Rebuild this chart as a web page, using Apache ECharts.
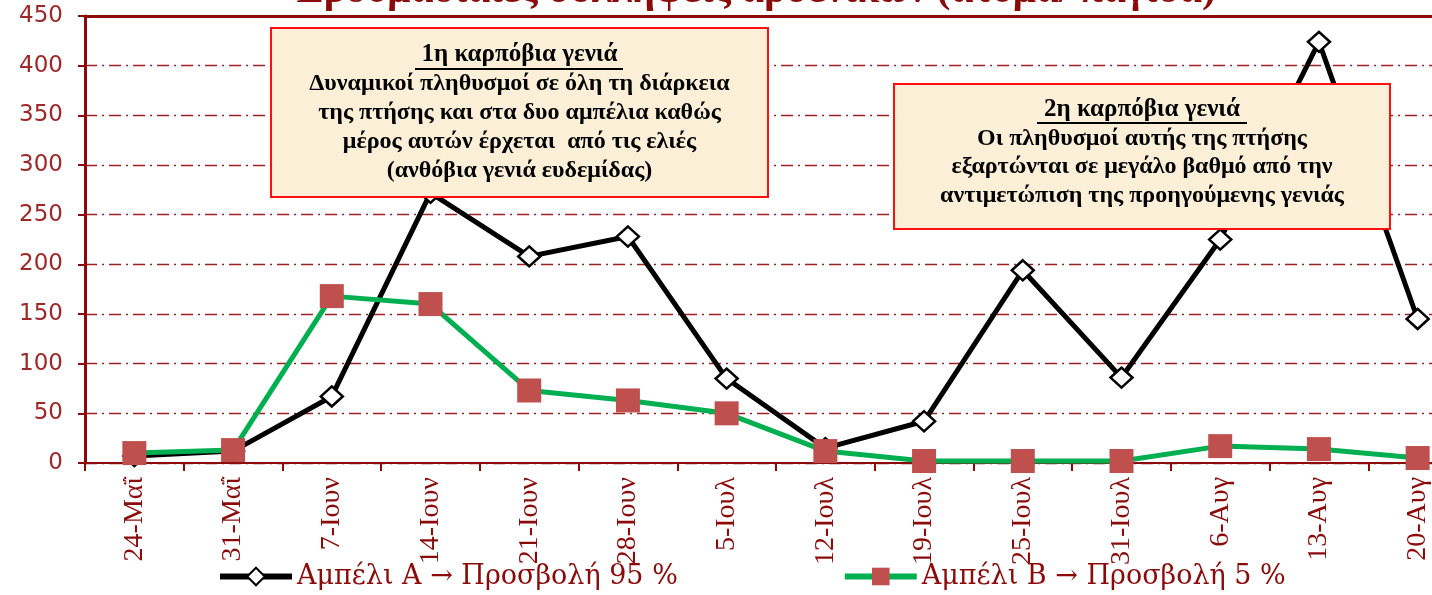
<!DOCTYPE html>
<html><head><meta charset="utf-8">
<script src="https://cdn.jsdelivr.net/npm/echarts@6/dist/echarts.min.js"></script>
<style>html,body{margin:0;padding:0;background:#fff;overflow:hidden}#c{width:1467px;height:595px}</style>
</head><body><div id="c"></div>
<script>
var categories = ['24-Μαΐ','31-Μαΐ','7-Ιουν','14-Ιουν','21-Ιουν','28-Ιουν','5-Ιουλ','12-Ιουλ','19-Ιουλ','25-Ιουλ','31-Ιουλ','6-Αυγ','13-Αυγ','20-Αυγ'];
var seriesA = [7, 12, 67, 272, 208, 228, 85, 15, 42, 194, 86, 225, 424, 145];
var seriesB = [10, 13, 168, 160, 73, 63, 50, 12, 2, 2, 2, 17, 14, 5];
var nameA = 'Αμπέλι Α → Προσβολή 95 %';
var nameB = 'Αμπέλι Β → Προσβολή 5 %';
var yTicks = [0, 50, 100, 150, 200, 250, 300, 350, 400, 450];
var titleText = 'Εβδομαδιαίες συλλήψεις αρσενικών (άτομα/ παγίδα)';
var box1 = ['1η καρπόβια γενιά', 'Δυναμικοί πληθυσμοί σε όλη τη διάρκεια', 'της πτήσης και στα δυο αμπέλια καθώς', 'μέρος αυτών έρχεται  από τις ελιές', '(ανθόβια γενιά ευδεμίδας)'];
var box2 = ['2η καρπόβια γενιά', 'Οι πληθυσμοί αυτής της πτήσης', 'εξαρτώνται σε μεγάλο βαθμό από την', 'αντιμετώπιση της προηγούμενης γενιάς'];

var dark = '#8b0a0a';
var chart = echarts.init(document.getElementById('c'));

function boxGraphic(x, y, w, h, lines, lh, y0) {
  var els = [{type:'rect', shape:{x:x, y:y, width:w, height:h}, style:{fill:'#fbefd8', stroke:'#ff1010', lineWidth:2}, z:100}];
  lines.forEach(function(t, i){
    els.push({type:'text', x:x + w/2, y:y0 + i*lh, z:101,
      style:{text:t, fill:'#000', font:(i === 0 ? 'bold 25px' : 'bold 24px') + ' "Liberation Serif", serif', textAlign:'center', textVerticalAlign:'middle'}});
  });
  return els;
}
var g = [];
g = g.concat(boxGraphic(271, 28, 497, 169, box1, 29, 55));
g.push({type:'line', shape:{x1:415, y1:69, x2:623, y2:69}, style:{stroke:'#000', lineWidth:2}, z:101});
g = g.concat(boxGraphic(894, 84, 496, 145, box2, 28.5, 110));
g.push({type:'line', shape:{x1:1037, y1:123, x2:1247, y2:123}, style:{stroke:'#000', lineWidth:2}, z:101});
g.push({type:'text', x:756, y:-9, z:50, style:{text:titleText, fill:dark, font:'bold 41px "Liberation Serif", serif', textAlign:'center', textVerticalAlign:'middle'}});

chart.setOption({
  animation:false,
  grid:{left:85, right:0, top:16, bottom:132, containLabel:false},
  legend:{
    bottom:0, left:212, itemGap:164, itemWidth:72, itemHeight:22,
    lineStyle:{width:6},
    textStyle:{fontFamily:'"DejaVu Serif", serif', fontSize:27, color:dark},
    data:[nameA, nameB]
  },
  xAxis:[{
    type:'category', data:categories, boundaryGap:true,
    axisLine:{lineStyle:{color:dark, width:2}},
    axisTick:{show:true, length:8, lineStyle:{color:dark, width:2}},
    axisLabel:{rotate:90, margin:14, fontFamily:'"Liberation Serif", serif', fontSize:28, color:dark, interval:0}
  },{
    type:'category', position:'top', data:categories,
    axisLine:{show:true, lineStyle:{color:dark, width:3}},
    axisTick:{show:false}, axisLabel:{show:false}
  }],
  yAxis:{
    type:'value', min:0, max:450, interval:50,
    axisLine:{show:true, lineStyle:{color:dark, width:3}},
    axisTick:{show:true, length:7, lineStyle:{color:dark, width:2}},
    axisLabel:{margin:22, fontFamily:'"DejaVu Sans", sans-serif', fontSize:23, color:'#a02828',
      formatter:function(v){return yTicks.indexOf(v) >= 0 ? String(v) : '';}},
    splitLine:{show:true, lineStyle:{color:'#a02020', width:1.3, type:[12,5,2,5]}}
  },
  series:[{
    name:nameA, type:'line', data:seriesA, z:3,
    lineStyle:{color:'#000', width:5},
    itemStyle:{color:'#fff', borderColor:'#000', borderWidth:2.5},
    symbol:'diamond', symbolSize:[22,20], showAllSymbol:true
  },{
    name:nameB, type:'line', data:seriesB, z:4,
    lineStyle:{color:'#00b050', width:5},
    itemStyle:{color:'#c0504d', borderColor:'#c0504d', borderWidth:0},
    symbol:'rect', symbolSize:24, showAllSymbol:true
  }],
  graphic:g
});
</script></body></html>
